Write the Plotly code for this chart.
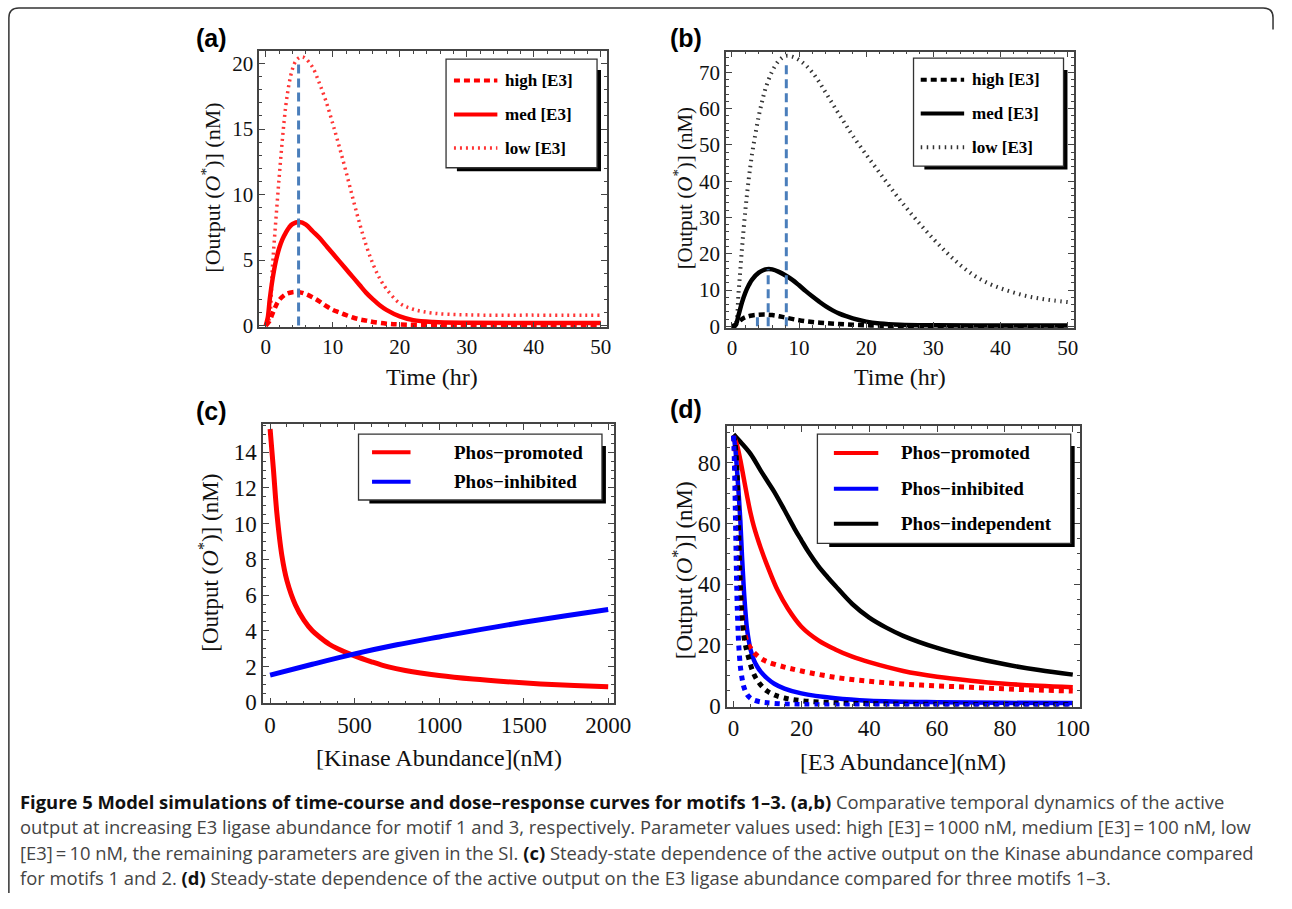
import plotly.graph_objects as go

W, H = 1292, 909

# ---------------- Data ----------------
a_t_high = [0, 0.5, 1, 1.5, 2, 3, 4, 5, 6, 7, 8, 9, 10, 11, 12, 13, 14, 15, 16, 18, 20, 25, 30, 40, 50]
a_high = [0, 0.3, 0.9, 1.5, 1.95, 2.4, 2.55, 2.55, 2.4, 2.15, 1.85, 1.5, 1.2, 1.0, 0.8, 0.62, 0.48, 0.38, 0.28, 0.15, 0.09, 0.05, 0.04, 0.04, 0.04]
a_t_med = [0, 0.3, 0.6, 1, 1.5, 2, 2.5, 3, 3.5, 4, 5, 6, 7, 8, 9, 10, 11, 12, 13, 14, 15, 16, 17, 18, 20, 22, 25, 30, 40, 50]
a_med = [0, 0.6, 2.0, 3.5, 4.9, 5.9, 6.6, 7.1, 7.5, 7.75, 7.9, 7.7, 7.2, 6.7, 6.1, 5.5, 4.9, 4.3, 3.7, 3.1, 2.5, 2.0, 1.55, 1.2, 0.7, 0.42, 0.28, 0.22, 0.2, 0.2]
a_t_low = [0, 0.5, 1, 1.5, 2, 2.5, 3, 3.5, 4, 4.5, 5, 5.5, 6, 7, 8, 9, 10, 11, 12, 13, 14, 15, 16, 17, 18, 20, 22, 25, 30, 40, 50]
a_low = [0, 0.5, 4.5, 8, 11.3, 14.3, 16.8, 18.5, 19.6, 20.2, 20.45, 20.5, 20.35, 19.7, 18.5, 17.1, 15.4, 13.6, 11.7, 9.7, 7.8, 6.1, 4.7, 3.6, 2.8, 1.7, 1.25, 0.95, 0.82, 0.8, 0.8]
a_peak_t = [4.9]
a_peak_top = [20.3]

b_t_high = [0, 0.5, 1, 1.5, 2, 3, 4, 5, 6, 7, 8, 10, 12, 14, 16, 18, 20, 22, 25, 30, 40, 50]
b_high = [0, 0.4, 1.3, 2.0, 2.5, 3.0, 3.2, 3.25, 3.1, 2.8, 2.4, 1.7, 1.2, 0.9, 0.65, 0.45, 0.3, 0.2, 0.1, 0.05, 0.03, 0.03]
b_t_med = [0, 0.5, 1, 1.5, 2, 2.5, 3, 4, 5, 5.5, 6, 7, 8, 9, 10, 11, 12, 13, 14, 15, 16, 17, 18, 20, 22, 25, 30, 40, 50]
b_med = [0, 0.2, 3.2, 6.6, 9.3, 11.3, 12.9, 14.8, 15.7, 15.8, 15.7, 15, 14, 12.8, 11.3, 9.7, 8.2, 6.8, 5.5, 4.4, 3.5, 2.8, 2.2, 1.3, 0.8, 0.45, 0.3, 0.25, 0.25]
b_t_low = [0, 0.5, 1, 1.5, 2, 2.5, 3, 3.5, 4, 4.5, 5, 6, 7, 8, 9, 10, 11, 12, 13, 14, 15, 16, 17, 18, 20, 22, 24, 26, 28, 30, 32, 34, 36, 38, 40, 42, 44, 46, 48, 50]
b_low = [0, 0.5, 9.7, 21.5, 32, 40.5, 47.5, 53, 58, 62, 65.5, 70.3, 73.2, 74.5, 74.3, 73.4, 71.9, 69.9, 67.3, 64.3, 61.3, 58.3, 55.4, 52.5, 47.3, 42.3, 37.3, 32.6, 28.2, 24.1, 20.3, 16.9, 14.1, 12.0, 10.5, 9.3, 8.3, 7.6, 7.1, 6.7]
b_peak_t = [3.8, 5.4, 8.1]
b_peak_top = [2.9, 15.7, 72.8]

c_x_prom = [0, 20, 40, 70, 100, 150, 200, 250, 300, 350, 400, 500, 600, 700, 800, 1000, 1200, 1400, 1600, 1800, 2000]
c_prom = [15.3, 13.0, 10.6, 8.2, 6.8, 5.45, 4.6, 4.0, 3.6, 3.25, 3.0, 2.6, 2.27, 1.98, 1.78, 1.5, 1.3, 1.15, 1.03, 0.94, 0.87]
c_x_inh = [0, 250, 500, 750, 1000, 1250, 1500, 1750, 2000]
c_inh = [1.52, 2.13, 2.71, 3.22, 3.66, 4.08, 4.48, 4.85, 5.2]

d_x_prom = [0, 1, 2, 3, 4, 5, 6, 8, 10, 13, 16, 20, 25, 30, 35, 40, 50, 60, 70, 80, 90, 100]
d_prom = [89, 86, 81, 75, 69, 63.5, 59, 52, 46, 38, 32, 26, 21.5, 18.5, 16.1, 14.3, 11.4, 9.5, 8.2, 7.2, 6.5, 6.0]
d_x_inh = [0, 0.5, 1, 1.5, 2, 2.5, 3, 3.5, 4, 5, 6, 7, 8, 10, 12, 15, 20, 30, 40, 60, 80, 100]
d_inh = [89, 85, 78, 70, 61, 49, 39, 31, 25, 18.5, 15, 12.8, 11.2, 8.9, 7.2, 5.6, 4.0, 2.4, 1.6, 1.1, 0.9, 0.8]
d_x_ind = [0, 2, 5, 8, 10, 12, 15, 18, 20, 22, 25, 28, 30, 35, 40, 45, 50, 60, 70, 80, 90, 100]
d_ind = [89.5, 87, 83, 77.5, 74, 70.5, 64.5, 58.3, 54.5, 50.8, 46, 42, 39.5, 33.5, 29, 25.7, 23, 19, 16, 13.6, 11.7, 10.2]
d_x_prom_dot = [0, 0.5, 1, 1.5, 2, 2.5, 3, 4, 5, 6, 8, 10, 15, 20, 30, 40, 50, 60, 70, 80, 90, 100]
d_prom_dot = [89, 82, 70, 52, 38, 30, 25, 21, 19, 17.5, 15.6, 14.4, 12.7, 11.4, 9.3, 8.0, 7.1, 6.5, 6.0, 5.5, 5.1, 4.8]
d_x_inh_dot = [0, 0.25, 0.5, 0.75, 1, 1.25, 1.5, 2, 2.5, 3, 4, 5, 6, 8, 10, 15, 20, 30, 50, 100]
d_inh_dot = [89, 80, 66, 50, 36, 27, 20.5, 13, 9, 6.3, 3.6, 2.4, 1.8, 1.2, 0.9, 0.5, 0.35, 0.2, 0.1, 0.05]
d_x_ind_dot = [0, 0.4, 0.8, 1.1, 1.4, 1.7, 2, 2.5, 3, 3.5, 4.5, 6, 8, 10, 12, 15, 20, 30, 40, 60, 100]
d_ind_dot = [89, 87, 82, 75, 63, 50, 40, 29.5, 23.5, 20, 15.5, 10.3, 6.8, 4.7, 3.5, 2.5, 1.6, 0.9, 0.6, 0.4, 0.25]

a_xticks = [0, 10, 20, 30, 40, 50]
a_yticks = [0, 5, 10, 15, 20]
b_yticks = [0, 10, 20, 30, 40, 50, 60, 70]
c_xticks = [0, 500, 1000, 1500, 2000]
c_yticks = [0, 2, 4, 6, 8, 10, 12, 14]
d_xticks = [0, 20, 40, 60, 80, 100]
d_yticks = [0, 20, 40, 60, 80]

legend_a = ["high [E3]", "med [E3]", "low [E3]"]
legend_c = ["Phos\u2212promoted", "Phos\u2212inhibited"]
legend_d = ["Phos\u2212promoted", "Phos\u2212inhibited", "Phos\u2212independent"]

RED = "#ff0000"
LIGHTRED = "#ff3535"
BLUE = "#0000ff"
BLACK = "#000000"
PEAK = "#4a7ebb"
FRAME = "#444444"
SERIF = "Liberation Serif, Times New Roman, serif"


def px(x):
    return x / W


def py(y):
    return 1 - y / H


fig = go.Figure()

panels = {
    "a": dict(ax="", box=(262.7, 51.7, 615, 331.7), xr=[-0.97, 50.9], yr=[-0.13, 20.95],
              xt=a_xticks, yt=a_yticks, xm=2, ym=1, fs=21),
    "b": dict(ax="2", box=(735.7, 52.3, 1088, 332.3), xr=[-0.88, 50.9], yr=[-0.43, 75.7],
              xt=a_xticks, yt=b_yticks, xm=2, ym=2, fs=21),
    "c": dict(ax="3", box=(266.7, 430, 622.3, 712.7), xr=[-40.8, 2035], yr=[-0.055, 15.56],
              xt=c_xticks, yt=c_yticks, xm=100, ym=0.5, fs=23),
    "d": dict(ax="4", box=(736.7, 431.7, 1094.3, 716), xr=[-1.93, 102.1], yr=[-0.33, 92.2],
              xt=d_xticks, yt=d_yticks, xm=5, ym=5, fs=23),
}

layout_axes = {}
for k, p in panels.items():
    l, t, r, b = p["box"]
    common = dict(showgrid=False, zeroline=False, showline=True, linecolor=FRAME, linewidth=1.5,
                  mirror="allticks", ticks="inside", ticklen=6, tickwidth=1.2, tickcolor=FRAME,
                  tickfont=dict(family=SERIF, size=p["fs"], color="#111111"), fixedrange=True)
    xa = dict(common, domain=[px(l), px(r)], range=p["xr"], tickmode="array", tickvals=p["xt"],
              anchor="y" + p["ax"],
              minor=dict(ticks="inside", ticklen=3, tickwidth=1, tickcolor=FRAME, dtick=p["xm"], tick0=0))
    ya = dict(common, domain=[py(b), py(t)], range=p["yr"], tickmode="array", tickvals=p["yt"],
              anchor="x" + p["ax"],
              minor=dict(ticks="inside", ticklen=3, tickwidth=1, tickcolor=FRAME, dtick=p["ym"], tick0=0))
    layout_axes["xaxis" + p["ax"]] = xa
    layout_axes["yaxis" + p["ax"]] = ya


def add_line(panel, x, y, color, width, dash="solid", name=None):
    ax = panels[panel]["ax"]
    fig.add_trace(go.Scatter(x=x, y=y, mode="lines", name=name, showlegend=False,
                             line=dict(color=color, width=width, dash=dash, shape="spline", smoothing=1.0),
                             xaxis="x" + ax, yaxis="y" + ax, hoverinfo="skip"))


def add_peaks(panel, ts, tops):
    ax = panels[panel]["ax"]
    for t, top in zip(ts, tops):
        fig.add_trace(go.Scatter(x=[t, t], y=[0, top], mode="lines", showlegend=False,
                                 line=dict(color=PEAK, width=3, dash="9px,5px"),
                                 xaxis="x" + ax, yaxis="y" + ax, hoverinfo="skip"))


add_line("a", a_t_low, a_low, LIGHTRED, 3.5, "2px,4px", legend_a[2])
add_line("a", a_t_med, a_med, RED, 4.5, "solid", legend_a[1])
add_line("a", a_t_high, a_high, RED, 4.5, "6px,4px", legend_a[0])
add_peaks("a", a_peak_t, a_peak_top)

add_line("b", b_t_low, b_low, "#333333", 4, "1.5px,4.5px", legend_a[2])
add_line("b", b_t_med, b_med, BLACK, 4.5, "solid", legend_a[1])
add_line("b", b_t_high, b_high, BLACK, 4.5, "6px,4px", legend_a[0])
add_peaks("b", b_peak_t, b_peak_top)

add_line("c", c_x_prom, c_prom, RED, 5, "solid", legend_c[0])
add_line("c", c_x_inh, c_inh, BLUE, 5, "solid", legend_c[1])

add_line("d", d_x_ind, d_ind, BLACK, 4.5, "solid", legend_d[2])
add_line("d", d_x_prom, d_prom, RED, 4.5, "solid", legend_d[0])
add_line("d", d_x_inh, d_inh, BLUE, 4.5, "solid", legend_d[1])
add_line("d", d_x_prom_dot, d_prom_dot, RED, 5, "5px,5px", legend_d[0] + " (dotted)")
add_line("d", d_x_ind_dot, d_ind_dot, BLACK, 5, "5px,5px", legend_d[2] + " (dotted)")
add_line("d", d_x_inh_dot, d_inh_dot, BLUE, 5, "5px,5px", legend_d[1] + " (dotted)")

shapes = []
annotations = []


def legend_box(l, t, r, b, sx, sy):
    shapes.append(dict(type="rect", xref="paper", yref="paper", x0=px(l + sx), x1=px(r + 4),
                       y0=py(b + 3.5), y1=py(t + sy), fillcolor="black", line=dict(width=0), layer="above"))
    shapes.append(dict(type="rect", xref="paper", yref="paper", x0=px(l), x1=px(r), y0=py(b), y1=py(t),
                       fillcolor="white", line=dict(color="#333333", width=1.3), layer="above"))


def legend_item(x0, x1, y, color, width, dash, text, tx, size):
    shapes.append(dict(type="line", xref="paper", yref="paper", x0=px(x0), x1=px(x1), y0=py(y), y1=py(y),
                       line=dict(color=color, width=width, dash=dash), layer="above"))
    annotations.append(dict(text="<b>" + text + "</b>", xref="paper", yref="paper", x=px(tx), y=py(y),
                            xanchor="left", yanchor="middle", showarrow=False,
                            font=dict(family=SERIF, size=size, color="black")))


legend_box(452, 60, 605, 170, 11, 11)
for txt, yy, dash, w, col in zip(legend_a, [81.7, 116, 150], ["6px,4px", "solid", "2px,4px"], [4, 4, 3.5],
                                 [RED, RED, LIGHTRED]):
    legend_item(460, 504, yy, col, w, dash, txt, 510, 17)
legend_box(925.7, 59, 1077.7, 168.3, 11, 12)
for txt, yy, dash, w, col in zip(legend_a, [80.7, 115, 149.3], ["6px,4px", "solid", "1.5px,4.5px"], [4, 4, 4],
                                 [BLACK, BLACK, "#333333"]):
    legend_item(933, 977, yy, col, w, dash, txt, 983, 17)
legend_box(363.3, 440, 610, 506.7, 11, 12)
for txt, yy, col in zip(legend_c, [458.3, 488.3], [RED, BLUE]):
    legend_item(377, 416, yy, col, 4, "solid", txt, 458, 19)
legend_box(828.3, 440, 1085, 550.7, 12, 12)
for txt, yy, col in zip(legend_d, [459, 495.3, 530.7], [RED, BLUE, BLACK]):
    legend_item(845, 890, yy, col, 4, "solid", txt, 911, 19)

for lab, x, y in [("(a)", 197, 38.5), ("(b)", 677, 38.5), ("(c)", 197, 416), ("(d)", 677, 414)]:
    annotations.append(dict(text="<b>" + lab + "</b>", xref="paper", yref="paper", x=px(x), y=py(y),
                            xanchor="left", yanchor="middle", showarrow=False,
                            font=dict(family="Liberation Sans, Arial, sans-serif", size=25, color="black")))

ytitle = "[Output (<i>O</i><sup>*</sup>)] (nM)"
for txt, x, y, size in [("Time (hr)", 438, 382, 24), ("Time (hr)", 912, 382, 24),
                        ("[Kinase Abundance](nM)", 445, 768, 24), ("[E3 Abundance](nM)", 915, 772, 24)]:
    annotations.append(dict(text=txt, xref="paper", yref="paper", x=px(x), y=py(y), xanchor="center",
                            yanchor="middle", showarrow=False, font=dict(family=SERIF, size=size, color="#111111")))
for x, y, size in [(214, 190, 22), (693, 190, 21), (212, 570, 23), (692, 578, 23)]:
    annotations.append(dict(text=ytitle, xref="paper", yref="paper", x=px(x), y=py(y), xanchor="center",
                            yanchor="middle", showarrow=False, textangle=-90,
                            font=dict(family=SERIF, size=size, color="#111111")))

cap_lines = [
    "<b><span style='color:#111111'>Figure 5 Model simulations of time-course and dose\u2013response curves for motifs 1\u20133. (a,b)</span></b> Comparative temporal dynamics of the active",
    "output at increasing E3 ligase abundance for motif 1 and 3, respectively. Parameter values used: high [E3]\u2009=\u20091000 nM, medium [E3]\u2009=\u2009100 nM, low",
    "[E3]\u2009=\u200910 nM, the remaining parameters are given in the SI. <b><span style='color:#111111'>(c)</span></b> Steady-state dependence of the active output on the Kinase abundance compared",
    "for motifs 1 and 2. <b><span style='color:#111111'>(d)</span></b> Steady-state dependence of the active output on the E3 ligase abundance compared for three motifs 1\u20133.",
]
for i, (line, yy) in enumerate(zip(cap_lines, [812, 838, 864, 889])):
    annotations.append(dict(text=line, xref="paper", yref="paper", x=px(18), y=py(yy),
                            xanchor="left", yanchor="middle", showarrow=False,
                            font=dict(family="Open Sans, sans-serif", size=18.4, color="#444444")))

shapes.append(dict(type="path", xref="paper", yref="paper",
                   path="M %f,%f L %f,%f Q %f,%f %f,%f L %f,%f Q %f,%f %f,%f L %f,%f" % (
                       px(9), py(905), px(9), py(18), px(9), py(8), px(19), py(8),
                       px(1280), py(8), px(1290), py(8), px(1290), py(18), px(1290), py(30)),
                   line=dict(color="#333333", width=1.5)))

fig.update_layout(
    autosize=True, margin=dict(l=0, r=0, t=0, b=0),
    paper_bgcolor="white", plot_bgcolor="white", showlegend=False,
    shapes=shapes, annotations=annotations, **layout_axes,
)

post = ("document.documentElement.style.overflow='hidden';"
        "document.body.style.margin='0';document.body.style.padding='0';document.body.style.overflow='hidden';"
        "var gd=document.getElementById('{plot_id}');Plotly.Plots.resize(gd);")

fig.write_html("out.html", include_plotlyjs=True, config={"displayModeBar": False, "responsive": True},
               default_width="100vw", default_height="100vh", post_script=post)
